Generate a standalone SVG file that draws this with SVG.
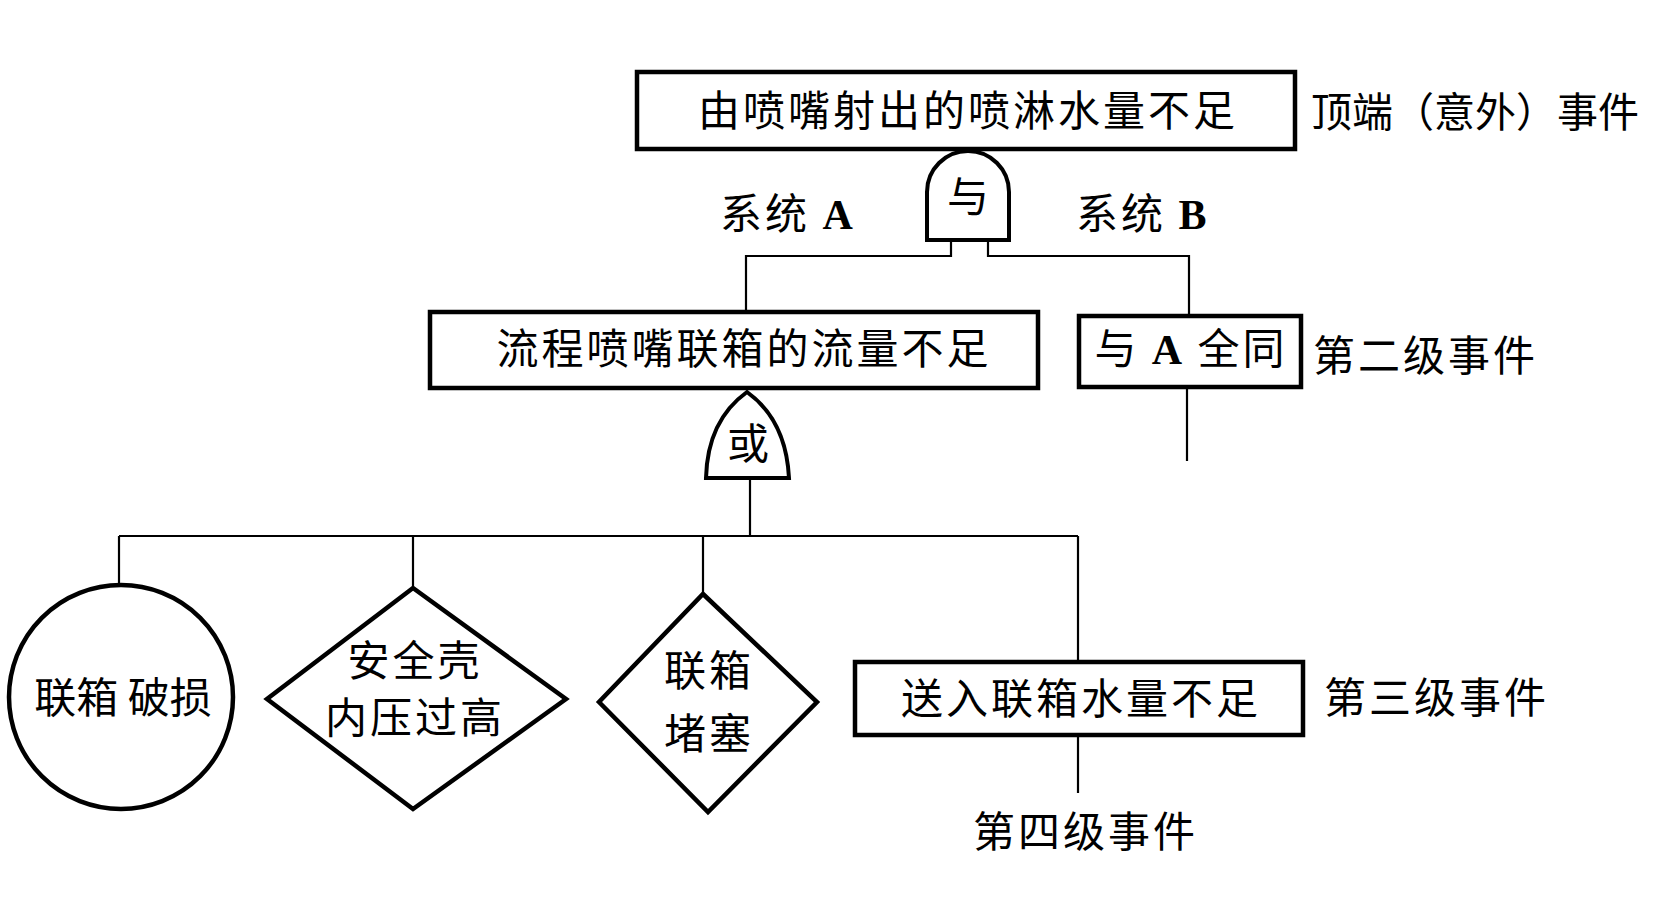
<svg xmlns="http://www.w3.org/2000/svg" width="1654" height="898" viewBox="0 0 1654 898">
<style>
.box{fill:#fff;stroke:#000;stroke-width:4.5}
.gate{fill:#fff;stroke:#000;stroke-width:4}
.ln{fill:none;stroke:#000;stroke-width:2.2}
.t{font-family:"Noto Sans CJK SC","Noto Sans CJK TC",sans-serif;font-size:42px;fill:#000;letter-spacing:3px}
.n{letter-spacing:0}
.c{text-anchor:middle}
.lat{font-family:"Liberation Serif",serif;font-weight:bold}
</style>
<rect width="1654" height="898" fill="#fff"/>
<g id="connectors">
<polyline class="ln" points="951,240 951,256 746,256 746,312"/>
<polyline class="ln" points="988,240 988,256 1189,256 1189,316"/>
<line class="ln" x1="1187" y1="387" x2="1187" y2="461"/>
<polyline class="ln" points="750,478 750,536"/>
<line class="ln" x1="119" y1="536" x2="1078" y2="536"/>
<line class="ln" x1="119" y1="536" x2="119" y2="584"/>
<line class="ln" x1="413" y1="536" x2="413" y2="588"/>
<line class="ln" x1="703" y1="536" x2="703" y2="594"/>
<line class="ln" x1="1078" y1="536" x2="1078" y2="662"/>
<line class="ln" x1="1078" y1="735" x2="1078" y2="793"/>
</g>
<g id="top-event">
<rect class="box" x="637" y="72" width="658" height="77"/>
<text class="t c" x="968" y="126">由喷嘴射出的喷淋水量不足</text>
</g>
<text id="label-top" class="t n" x="1311" y="127" style="font-size:41px">顶端（意外）事件</text>
<g id="and-gate">
<path class="gate" d="M927,240 L927,192 A41,41 0 0 1 1009,192 L1009,240 Z"/>
<text class="t c n" x="968" y="212">与</text>
</g>
<text id="label-sysA" class="t" x="720" y="229">系统 <tspan class="lat">A</tspan></text>
<text id="label-sysB" class="t" x="1076" y="229">系统 <tspan class="lat">B</tspan></text>
<g id="event-A">
<rect class="box" x="430" y="312" width="608" height="76"/>
<text class="t c" x="744" y="364">流程喷嘴联箱的流量不足</text>
</g>
<g id="event-B">
<rect class="box" x="1079" y="316" width="222" height="71"/>
<text class="t c" x="1191" y="364">与 <tspan class="lat">A</tspan> 全同</text>
</g>
<text id="label-level2" class="t" x="1313" y="371">第二级事件</text>
<g id="or-gate">
<path class="gate" d="M706,478 C707,438 722,410 747,392 C772,410 787,438 789,478 Z"/>
<text class="t c n" x="748" y="459">或</text>
</g>
<g id="basic-damage">
<circle class="box" cx="121" cy="697" r="112"/>
<text class="t c n" x="123" y="713">联箱 破损</text>
</g>
<g id="undev-pressure">
<path class="box" d="M413,588 L566,699 L413,809 L267,699 Z"/>
<text class="t c" x="415" y="676">安全壳</text>
<text class="t c" x="415" y="733">内压过高</text>
</g>
<g id="undev-block">
<path class="box" d="M703,594 L817,702 L708,812 L599,702 Z"/>
<text class="t c" x="709" y="686">联箱</text>
<text class="t c" x="709" y="749">堵塞</text>
</g>
<g id="event-C">
<rect class="box" x="855" y="662" width="448" height="73"/>
<text class="t c" x="1081" y="714">送入联箱水量不足</text>
</g>
<text id="label-level3" class="t" x="1324" y="713">第三级事件</text>
<text id="label-level4" class="t" x="973" y="847">第四级事件</text>
</svg>
